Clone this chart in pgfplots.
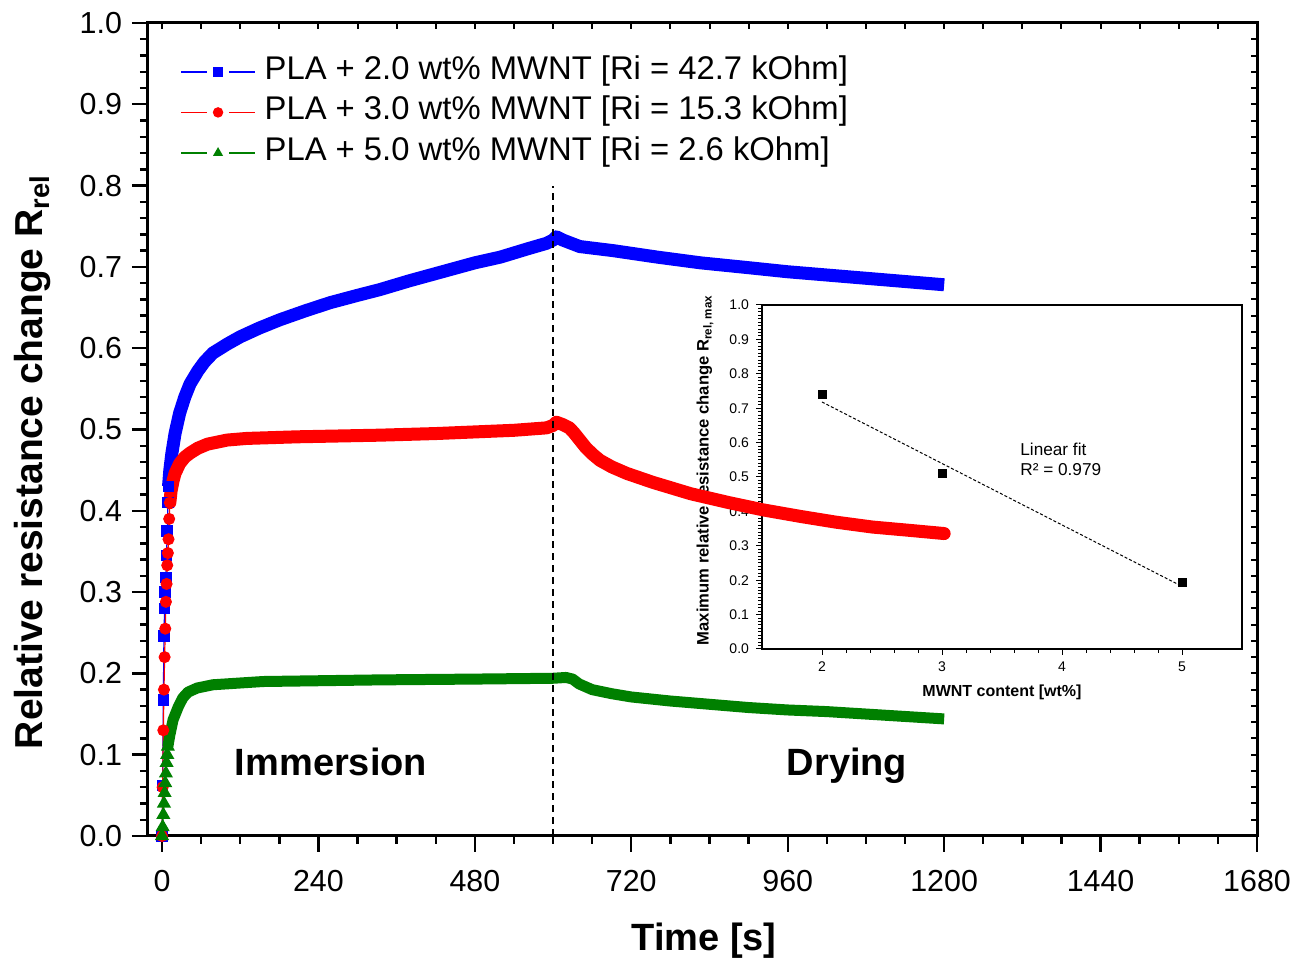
\documentclass[border=0pt]{standalone}
\usepackage{fontspec}
\setmainfont{Liberation Sans}
\usepackage{pgfplots}
\pgfplotsset{compat=1.18}
\definecolor{myblue}{RGB}{0,0,255}
\definecolor{myred}{RGB}{255,0,0}
\definecolor{mygreen}{RGB}{0,128,0}
\pgfplotsset{
  mylegend/.style={legend image code/.code={
    \draw[##1, mark=none] (0pt,0pt) -- (13pt,0pt);
    \draw[##1, mark=none] (24pt,0pt) -- (37pt,0pt);
    \draw[##1, mark size=2.3pt] plot coordinates {(18.5pt,0pt)};
  }},
}
\begin{document}
\begin{tikzpicture}
% ---------------- inset ----------------
\begin{axis}[
  at={(307pt,93.5pt)}, anchor=south west,
  scale only axis, width=240pt, height=172pt,
  xmin=1.5, xmax=5.5, ymin=0, ymax=1,
  xtick={2,3,4,5}, minor x tick num=4,
  ytick={0,0.1,...,1.0}, minor y tick num=9,
  tick pos=left, tick align=outside,
  major tick length=3pt, minor tick length=1.8pt,
  axis line style={line width=0.6pt},
  tick style={line width=0.5pt, black},
  ticklabel style={font=\fontsize{7}{8}\selectfont},
  /pgf/number format/assume math mode=true,
  y tick label style={/pgf/number format/.cd, fixed, fixed zerofill, precision=1, /tikz/.cd},
]
\addplot[black, dash pattern=on 1.5pt off 1pt, line width=0.5pt] coordinates {(2,0.718) (5,0.182)};
\addplot[only marks, mark=square*, mark size=2pt, black] coordinates {(2,0.741) (3,0.510) (5,0.194)};
\end{axis}
\node[font=\bfseries\fontsize{8}{9}\selectfont, inner sep=0pt] at (427pt,72pt) {MWNT content [wt\%]};
\node[rotate=90, font=\bfseries\fontsize{8.3}{9}\selectfont, inner sep=0pt] at (278.5pt,183pt) {Maximum relative resistance change R\textsubscript{rel, max}};
\node[anchor=west, font=\fontsize{8.6}{10}\selectfont, inner sep=0pt] at (436pt,193.5pt) {Linear fit};
\node[anchor=west, font=\fontsize{8.6}{10}\selectfont, inner sep=0pt] at (436pt,183pt) {R² = 0.979};
% ---------------- main ----------------
\begin{axis}[
  name=main, at={(0pt,0pt)}, anchor=south west,
  scale only axis, width=554.5pt, height=406.5pt,
  xmin=-21.5, xmax=1680, ymin=0, ymax=1,
  xtick={0,240,...,1680}, minor x tick num=3,
  ytick={0,0.1,...,1.0}, minor y tick num=4,
  tick pos=left, tick align=outside,
  major tick length=8pt, minor tick length=4pt,
  axis line style={line width=1.5pt},
  tick style={line width=1.2pt, black},
  ticklabel style={font=\fontsize{15.2}{18}\selectfont},
  /pgf/number format/assume math mode=true,
  y tick label style={/pgf/number format/.cd, fixed, fixed zerofill, precision=1, /tikz/.cd, xshift=-1.5pt},
  x tick label style={/pgf/number format/.cd, fixed, 1000 sep={}, /tikz/.cd, yshift=-5.5pt},
  clip=false,
  mylegend,
  legend cell align=left,
  legend style={draw=none, fill=none, inner sep=0pt,
    at={(axis description cs:0.0289,0.9606)}, anchor=north west,
    font=\fontsize{16.4}{19}\selectfont, row sep=3.75pt, column sep=4.5pt,
    nodes={inner sep=0pt, text height=12pt, text depth=4.5pt}},
]
% blue
\addplot[myblue, line width=6.5pt, line join=round, forget plot] coordinates {
(10,0.43) (12,0.45) (15,0.47) (20,0.495) (27,0.52) (35,0.54) (43,0.556) (55,0.572)
(65,0.583) (78,0.594) (100,0.605) (120,0.614) (150,0.625) (181,0.635) (220,0.646) (258,0.656)
(300,0.665) (334,0.672) (380,0.683) (430,0.694) (480,0.705) (519,0.712) (560,0.722)
(590,0.729) (600,0.733) (605,0.737) (615,0.733) (641,0.725) (692,0.720) (760,0.712)
(826,0.705) (900,0.699) (960,0.694) (1020,0.690) (1080,0.686) (1140,0.682) (1200,0.678)};
\addplot[myblue, line width=0.6pt, mark=square*, mark size=2.6pt] coordinates {
(0,0) (1,0.062) (2,0.167) (3,0.246) (4,0.28) (5,0.30) (6,0.318) (7,0.345) (8,0.375) (9,0.41) (10,0.43)};
\addlegendentry{PLA + 2.0 wt\% MWNT [Ri = 42.7 kOhm]}
% red
\addplot[myred, line width=6.5pt, line join=round, line cap=round, forget plot] coordinates {
(12,0.41) (14,0.425) (17,0.437) (20,0.446) (27,0.458) (35,0.466) (43,0.471) (55,0.477) (70,0.482)
(100,0.487) (130,0.489) (208,0.491) (334,0.493) (420,0.495) (480,0.497) (540,0.499)
(590,0.502) (600,0.505) (605,0.509) (615,0.506) (625,0.502) (632,0.496) (640,0.488)
(650,0.478) (660,0.470) (672,0.462) (690,0.454) (713,0.446) (753,0.435) (811,0.421)
(870,0.41) (923,0.401) (980,0.393) (1034,0.386) (1090,0.38) (1146,0.376) (1200,0.372)};
\addplot[myred, line width=0.6pt, mark=*, mark size=2.7pt] coordinates {
(0,0) (1,0.06) (2,0.13) (3,0.18) (4,0.22) (5,0.255) (6,0.288) (7,0.31) (8,0.333) (9,0.348) (10,0.365) (11,0.39) (12,0.41)};
\addlegendentry{PLA + 3.0 wt\% MWNT [Ri = 15.3 kOhm]}
% green
\addplot[mygreen, line width=5.5pt, line join=round, forget plot] coordinates {
(9,0.11) (12,0.124) (17,0.143) (25,0.159) (32,0.170) (40,0.177) (54,0.182) (78,0.186) (155,0.19)
(334,0.192) (480,0.193) (600,0.194) (620,0.195) (630,0.193) (640,0.187) (660,0.180)
(690,0.175) (720,0.171) (780,0.166) (840,0.162) (900,0.158) (960,0.155) (1020,0.153) (1080,0.150)
(1140,0.147) (1200,0.144)};
\addplot[mygreen, line width=0.6pt, mark=triangle*, mark size=3.5pt] coordinates {
(0,0) (1,0.011) (2,0.026) (3,0.04) (4,0.053) (5,0.065) (6,0.077) (7,0.09) (8,0.10) (9,0.11)};
\addlegendentry{PLA + 5.0 wt\% MWNT [Ri = 2.6 kOhm]}
% separator
\addplot[black, line width=0.75pt, dash pattern=on 3.5pt off 2.5pt, forget plot] coordinates {(600,0) (600,0.8)};
\end{axis}
% mirrored inner ticks on top and right
\begin{axis}[
  at={(0pt,0pt)}, anchor=south west,
  scale only axis, width=554.5pt, height=406.5pt,
  xmin=-21.5, xmax=1680, ymin=0, ymax=1,
  xtick={0,240,...,1680}, minor x tick num=3,
  ytick={0,0.1,...,1.0}, minor y tick num=4,
  tick pos=right, tick align=inside,
  major tick length=3pt, minor tick length=3pt,
  axis line style={draw=none},
  tick style={line width=1pt, black},
  xticklabels={}, yticklabels={},
]
\addplot[draw=none, forget plot] coordinates {(0,0)};
\end{axis}
% labels
\node[font=\bfseries\fontsize{19}{22}\selectfont, inner sep=0pt] at (278pt,-52.5pt) {Time [s]};
\node[rotate=90, font=\bfseries\fontsize{19.5}{22}\selectfont, inner sep=0pt] at (-57.5pt,187pt) {Relative resistance change R\textsubscript{rel}};
\node[anchor=base, font=\bfseries\fontsize{19}{22}\selectfont, inner sep=0pt] at (331pt,30pt) {};
\node[anchor=base, font=\bfseries\fontsize{19}{22}\selectfont, inner sep=0pt] at (91.5pt,30pt) {Immersion};
\node[anchor=base, font=\bfseries\fontsize{19}{22}\selectfont, inner sep=0pt] at (349.5pt,30pt) {Drying};
\pgfresetboundingbox
\path[use as bounding box] (-74pt,-62.5pt) rectangle (574.5pt,418pt);
\end{tikzpicture}
\end{document}
